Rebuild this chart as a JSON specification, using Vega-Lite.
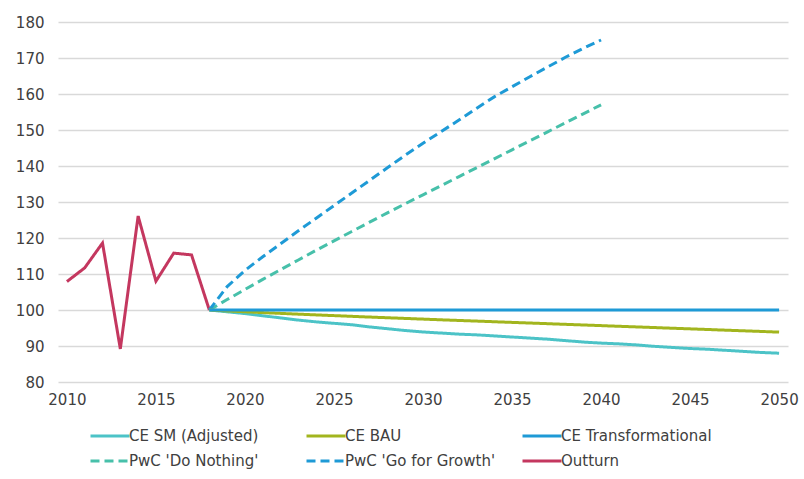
{
  "$schema": "https://vega.github.io/schema/vega-lite/v6.json",
  "width": 730,
  "height": 360,
  "autosize": {"type": "none"},
  "padding": {"left": 58, "top": 22, "right": 16, "bottom": 97},
  "background": "white",
  "config": {"font": "DejaVu Sans", "view": {"stroke": null}},
  "datasets": {
    "rows": [
      {"series": "Outturn", "year": 2010, "value": 107.9},
      {"series": "Outturn", "year": 2011, "value": 111.7},
      {"series": "Outturn", "year": 2012, "value": 118.6},
      {"series": "Outturn", "year": 2013, "value": 89.2},
      {"series": "Outturn", "year": 2014, "value": 126.1},
      {"series": "Outturn", "year": 2015, "value": 108.0},
      {"series": "Outturn", "year": 2016, "value": 115.8},
      {"series": "Outturn", "year": 2017, "value": 115.3},
      {"series": "Outturn", "year": 2018, "value": 100.0},

      {"series": "PwC 'Do Nothing'", "year": 2018, "value": 100.0},
      {"series": "PwC 'Do Nothing'", "year": 2019, "value": 102.9},
      {"series": "PwC 'Do Nothing'", "year": 2020, "value": 105.7},
      {"series": "PwC 'Do Nothing'", "year": 2021, "value": 108.5},
      {"series": "PwC 'Do Nothing'", "year": 2022, "value": 111.2},
      {"series": "PwC 'Do Nothing'", "year": 2023, "value": 113.9},
      {"series": "PwC 'Do Nothing'", "year": 2024, "value": 116.6},
      {"series": "PwC 'Do Nothing'", "year": 2025, "value": 119.2},
      {"series": "PwC 'Do Nothing'", "year": 2026, "value": 121.8},
      {"series": "PwC 'Do Nothing'", "year": 2027, "value": 124.4},
      {"series": "PwC 'Do Nothing'", "year": 2028, "value": 127.0},
      {"series": "PwC 'Do Nothing'", "year": 2029, "value": 129.5},
      {"series": "PwC 'Do Nothing'", "year": 2030, "value": 132.0},
      {"series": "PwC 'Do Nothing'", "year": 2031, "value": 134.5},
      {"series": "PwC 'Do Nothing'", "year": 2032, "value": 137.0},
      {"series": "PwC 'Do Nothing'", "year": 2033, "value": 139.5},
      {"series": "PwC 'Do Nothing'", "year": 2034, "value": 142.0},
      {"series": "PwC 'Do Nothing'", "year": 2035, "value": 144.5},
      {"series": "PwC 'Do Nothing'", "year": 2036, "value": 147.0},
      {"series": "PwC 'Do Nothing'", "year": 2037, "value": 149.5},
      {"series": "PwC 'Do Nothing'", "year": 2038, "value": 152.0},
      {"series": "PwC 'Do Nothing'", "year": 2039, "value": 154.5},
      {"series": "PwC 'Do Nothing'", "year": 2040, "value": 157.0},

      {"series": "PwC 'Go for Growth'", "year": 2018, "value": 100.0},
      {"series": "PwC 'Go for Growth'", "year": 2019, "value": 106.5},
      {"series": "PwC 'Go for Growth'", "year": 2020, "value": 111.0},
      {"series": "PwC 'Go for Growth'", "year": 2021, "value": 114.8},
      {"series": "PwC 'Go for Growth'", "year": 2022, "value": 118.4},
      {"series": "PwC 'Go for Growth'", "year": 2023, "value": 122.0},
      {"series": "PwC 'Go for Growth'", "year": 2024, "value": 125.5},
      {"series": "PwC 'Go for Growth'", "year": 2025, "value": 129.0},
      {"series": "PwC 'Go for Growth'", "year": 2026, "value": 132.5},
      {"series": "PwC 'Go for Growth'", "year": 2027, "value": 136.0},
      {"series": "PwC 'Go for Growth'", "year": 2028, "value": 139.5},
      {"series": "PwC 'Go for Growth'", "year": 2029, "value": 143.0},
      {"series": "PwC 'Go for Growth'", "year": 2030, "value": 146.3},
      {"series": "PwC 'Go for Growth'", "year": 2031, "value": 149.5},
      {"series": "PwC 'Go for Growth'", "year": 2032, "value": 152.7},
      {"series": "PwC 'Go for Growth'", "year": 2033, "value": 156.0},
      {"series": "PwC 'Go for Growth'", "year": 2034, "value": 159.2},
      {"series": "PwC 'Go for Growth'", "year": 2035, "value": 162.0},
      {"series": "PwC 'Go for Growth'", "year": 2036, "value": 164.8},
      {"series": "PwC 'Go for Growth'", "year": 2037, "value": 167.5},
      {"series": "PwC 'Go for Growth'", "year": 2038, "value": 170.2},
      {"series": "PwC 'Go for Growth'", "year": 2039, "value": 172.7},
      {"series": "PwC 'Go for Growth'", "year": 2040, "value": 175.0},

      {"series": "CE SM (Adjusted)", "year": 2018, "value": 100.0},
      {"series": "CE SM (Adjusted)", "year": 2019, "value": 99.5},
      {"series": "CE SM (Adjusted)", "year": 2020, "value": 99.0},
      {"series": "CE SM (Adjusted)", "year": 2021, "value": 98.4},
      {"series": "CE SM (Adjusted)", "year": 2022, "value": 97.8},
      {"series": "CE SM (Adjusted)", "year": 2023, "value": 97.2},
      {"series": "CE SM (Adjusted)", "year": 2024, "value": 96.7},
      {"series": "CE SM (Adjusted)", "year": 2025, "value": 96.3},
      {"series": "CE SM (Adjusted)", "year": 2026, "value": 95.9},
      {"series": "CE SM (Adjusted)", "year": 2027, "value": 95.3},
      {"series": "CE SM (Adjusted)", "year": 2028, "value": 94.8},
      {"series": "CE SM (Adjusted)", "year": 2029, "value": 94.3},
      {"series": "CE SM (Adjusted)", "year": 2030, "value": 93.9},
      {"series": "CE SM (Adjusted)", "year": 2031, "value": 93.6},
      {"series": "CE SM (Adjusted)", "year": 2032, "value": 93.3},
      {"series": "CE SM (Adjusted)", "year": 2033, "value": 93.1},
      {"series": "CE SM (Adjusted)", "year": 2034, "value": 92.8},
      {"series": "CE SM (Adjusted)", "year": 2035, "value": 92.5},
      {"series": "CE SM (Adjusted)", "year": 2036, "value": 92.2},
      {"series": "CE SM (Adjusted)", "year": 2037, "value": 91.9},
      {"series": "CE SM (Adjusted)", "year": 2038, "value": 91.5},
      {"series": "CE SM (Adjusted)", "year": 2039, "value": 91.1},
      {"series": "CE SM (Adjusted)", "year": 2040, "value": 90.8},
      {"series": "CE SM (Adjusted)", "year": 2041, "value": 90.6},
      {"series": "CE SM (Adjusted)", "year": 2042, "value": 90.3},
      {"series": "CE SM (Adjusted)", "year": 2043, "value": 89.9},
      {"series": "CE SM (Adjusted)", "year": 2044, "value": 89.6},
      {"series": "CE SM (Adjusted)", "year": 2045, "value": 89.3},
      {"series": "CE SM (Adjusted)", "year": 2046, "value": 89.1},
      {"series": "CE SM (Adjusted)", "year": 2047, "value": 88.8},
      {"series": "CE SM (Adjusted)", "year": 2048, "value": 88.5},
      {"series": "CE SM (Adjusted)", "year": 2049, "value": 88.2},
      {"series": "CE SM (Adjusted)", "year": 2050, "value": 88.0},

      {"series": "CE BAU", "year": 2018, "value": 100.0},
      {"series": "CE BAU", "year": 2019, "value": 99.75},
      {"series": "CE BAU", "year": 2020, "value": 99.5},
      {"series": "CE BAU", "year": 2021, "value": 99.28},
      {"series": "CE BAU", "year": 2022, "value": 99.06},
      {"series": "CE BAU", "year": 2023, "value": 98.85},
      {"series": "CE BAU", "year": 2024, "value": 98.64},
      {"series": "CE BAU", "year": 2025, "value": 98.44},
      {"series": "CE BAU", "year": 2026, "value": 98.24},
      {"series": "CE BAU", "year": 2027, "value": 98.04},
      {"series": "CE BAU", "year": 2028, "value": 97.85},
      {"series": "CE BAU", "year": 2029, "value": 97.66},
      {"series": "CE BAU", "year": 2030, "value": 97.47},
      {"series": "CE BAU", "year": 2031, "value": 97.28},
      {"series": "CE BAU", "year": 2032, "value": 97.1},
      {"series": "CE BAU", "year": 2033, "value": 96.92},
      {"series": "CE BAU", "year": 2034, "value": 96.74},
      {"series": "CE BAU", "year": 2035, "value": 96.56},
      {"series": "CE BAU", "year": 2036, "value": 96.38},
      {"series": "CE BAU", "year": 2037, "value": 96.2},
      {"series": "CE BAU", "year": 2038, "value": 96.02},
      {"series": "CE BAU", "year": 2039, "value": 95.84},
      {"series": "CE BAU", "year": 2040, "value": 95.66},
      {"series": "CE BAU", "year": 2041, "value": 95.48},
      {"series": "CE BAU", "year": 2042, "value": 95.3},
      {"series": "CE BAU", "year": 2043, "value": 95.12},
      {"series": "CE BAU", "year": 2044, "value": 94.94},
      {"series": "CE BAU", "year": 2045, "value": 94.76},
      {"series": "CE BAU", "year": 2046, "value": 94.58},
      {"series": "CE BAU", "year": 2047, "value": 94.4},
      {"series": "CE BAU", "year": 2048, "value": 94.22},
      {"series": "CE BAU", "year": 2049, "value": 94.04},
      {"series": "CE BAU", "year": 2050, "value": 93.86},

      {"series": "CE Transformational", "year": 2018, "value": 100.0},
      {"series": "CE Transformational", "year": 2050, "value": 100.0}
    ]
  },
  "data": {"name": "rows"},
  "mark": {"type": "line", "strokeWidth": 3, "clip": false},
  "encoding": {
    "x": {
      "field": "year",
      "type": "quantitative",
      "scale": {"domain": [2009.5, 2050.5], "nice": false, "zero": false},
      "axis": {
        "values": [2010, 2015, 2020, 2025, 2030, 2035, 2040, 2045, 2050],
        "format": "d",
        "title": null,
        "grid": false,
        "domain": false,
        "ticks": false,
        "labelFlush": false,
        "labelFont": "DejaVu Sans",
        "labelFontSize": 15,
        "labelColor": "#404040",
        "labelPadding": 10
      }
    },
    "y": {
      "field": "value",
      "type": "quantitative",
      "scale": {"domain": [80, 180], "nice": false, "zero": false},
      "axis": {
        "values": [80, 90, 100, 110, 120, 130, 140, 150, 160, 170, 180],
        "title": null,
        "domain": false,
        "ticks": false,
        "grid": true,
        "gridColor": "#d9d9d9",
        "gridWidth": 1.5,
        "labelFont": "DejaVu Sans",
        "labelFontSize": 15,
        "labelColor": "#404040",
        "labelPadding": 14
      }
    },
    "color": {
      "field": "series",
      "type": "nominal",
      "sort": ["CE SM (Adjusted)", "CE BAU", "CE Transformational", "PwC 'Do Nothing'", "PwC 'Go for Growth'", "Outturn"],
      "scale": {
        "domain": ["CE SM (Adjusted)", "CE BAU", "CE Transformational", "PwC 'Do Nothing'", "PwC 'Go for Growth'", "Outturn"],
        "range": ["#4cc3c7", "#a2b51e", "#1e9ad6", "#47c0aa", "#1e9ad6", "#c4375f"]
      },
      "legend": {
        "title": null,
        "orient": "none",
        "legendX": 31,
        "legendY": 406,
        "columns": 3,
        "direction": "horizontal",
        "gridAlign": "all",
        "columnPadding": 20,
        "rowPadding": 9,
        "padding": 0,
        "symbolType": "M-3,0H3",
        "symbolSize": 169,
        "symbolStrokeWidth": 3,
        "symbolOffset": 13,
        "labelOffset": 11,
        "labelFont": "DejaVu Sans",
        "labelFontSize": 15,
        "labelColor": "#404040",
        "labelLimit": 300
      }
    },
    "strokeDash": {
      "field": "series",
      "type": "nominal",
      "sort": ["CE SM (Adjusted)", "CE BAU", "CE Transformational", "PwC 'Do Nothing'", "PwC 'Go for Growth'", "Outturn"],
      "scale": {
        "domain": ["CE SM (Adjusted)", "CE BAU", "CE Transformational", "PwC 'Do Nothing'", "PwC 'Go for Growth'", "Outturn"],
        "range": [[1, 0], [1, 0], [1, 0], [9, 5], [9, 5], [1, 0]]
      },
      "legend": {
        "title": null,
        "orient": "none",
        "legendX": 31,
        "legendY": 406,
        "columns": 3,
        "direction": "horizontal",
        "gridAlign": "all",
        "columnPadding": 20,
        "rowPadding": 9,
        "padding": 0,
        "symbolType": "M-3,0H3",
        "symbolSize": 169,
        "symbolStrokeWidth": 3,
        "symbolOffset": 13,
        "labelOffset": 11,
        "labelFont": "DejaVu Sans",
        "labelFontSize": 15,
        "labelColor": "#404040",
        "labelLimit": 300
      }
    }
  }
}
